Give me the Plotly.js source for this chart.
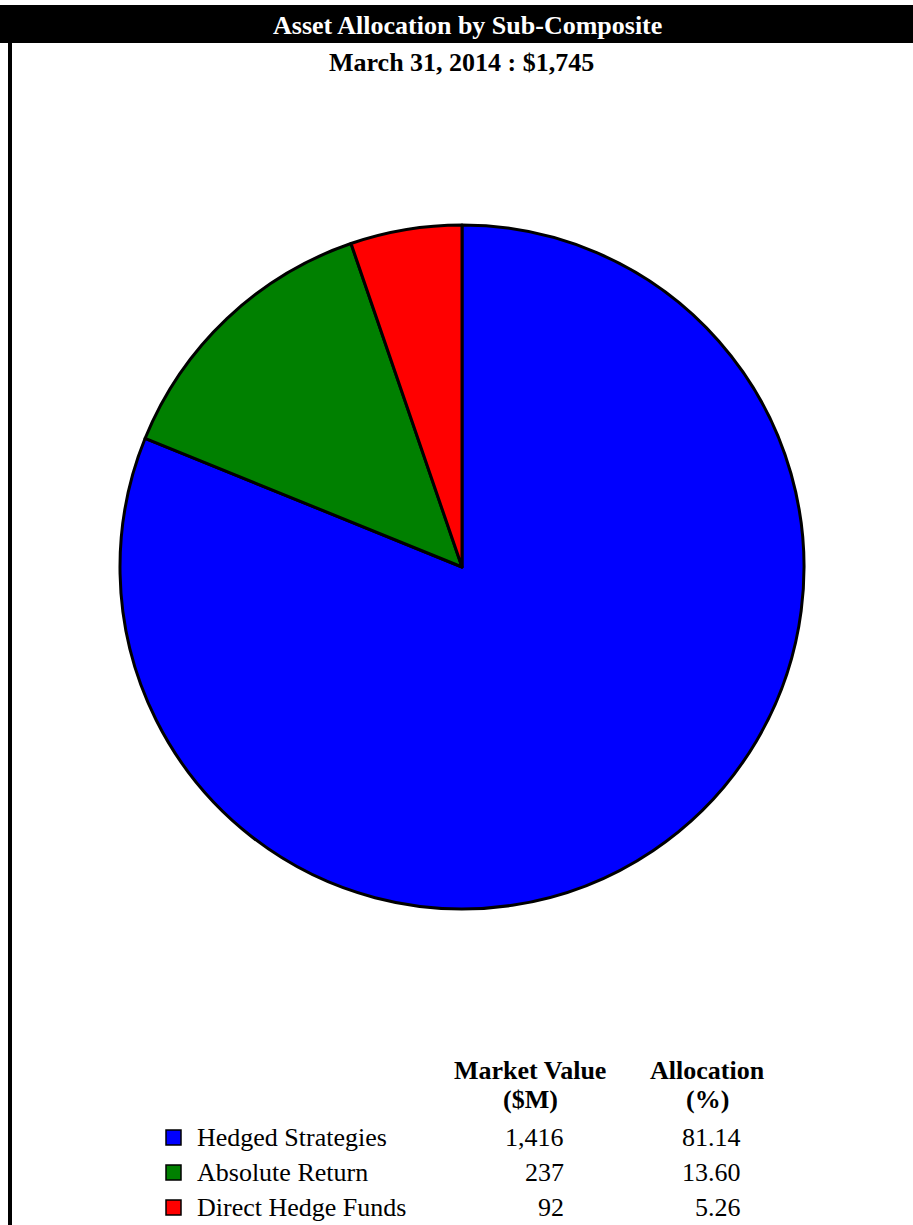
<!DOCTYPE html>
<html>
<head>
<meta charset="utf-8">
<script src="https://cdn.plot.ly/plotly-3.0.1.min.js"></script>
<style>html,body{margin:0;padding:0;background:#fff;}#chart{width:913px;height:1225px;}</style>
</head>
<body>
<div id="chart"></div>
<script>
var categories = ["Hedged Strategies", "Absolute Return", "Direct Hedge Funds"];
var marketValues = ["1,416", "237", "92"];
var allocations = [81.14, 13.60, 5.26];
var colors = ["#0000FF", "#008000", "#FF0000"];
var chartTitle = "Asset Allocation by Sub-Composite";
var subTitle = "March 31, 2014 : $1,745";
var colHeaderLine1 = ["Market Value", "Allocation"];
var colHeaderLine2 = ["($M)", "(%)"];

var W = 913, H = 1225;
function px(x){ return x / W; }
function py(y){ return 1 - y / H; }
var FONT = "Liberation Serif, Times New Roman, serif";
var FS = 26;

var trace = {
  type: "pie",
  values: allocations,
  labels: categories,
  sort: false,
  direction: "clockwise",
  rotation: 0,
  textinfo: "none",
  hoverinfo: "label+percent",
  marker: { colors: colors, line: { color: "#000", width: 3 } },
  domain: { x: [px(120), px(804)], y: [py(909), py(225)] },
  showlegend: false
};

function ann(text, x, y, anchor, color) {
  return { text: text, x: px(x), y: py(y), xref: "paper", yref: "paper", showarrow: false,
    xanchor: anchor, yanchor: "middle", align: anchor, font: { family: FONT, size: FS, color: color || "#000" } };
}

var shapes = [
  { type: "rect", xref: "paper", yref: "paper", x0: 0, x1: 1, y0: py(43), y1: py(5), fillcolor: "#000", line: { width: 0 } },
  { type: "rect", xref: "paper", yref: "paper", x0: px(8), x1: px(12), y0: 0, y1: py(43), fillcolor: "#000", line: { width: 0 } }
];
var annotations = [
  ann("<b>" + chartTitle + "</b>", 467, 25, "center", "#fff"),
  ann("<b>" + subTitle + "</b>", 461, 62, "center"),
  ann("<b>" + colHeaderLine1[0] + "</b>", 530, 1070, "center"),
  ann("<b>" + colHeaderLine2[0] + "</b>", 530, 1099, "center"),
  ann("<b>" + colHeaderLine1[1] + "</b>", 707, 1070, "center"),
  ann("<b>" + colHeaderLine2[1] + "</b>", 707, 1099, "center")
];
var rowY = [1137, 1172, 1207];
for (var i = 0; i < categories.length; i++) {
  shapes.push({ type: "rect", xref: "paper", yref: "paper", x0: px(166), x1: px(181), y0: py(rowY[i] + 8), y1: py(rowY[i] - 7), fillcolor: colors[i], line: { color: "#000", width: 1.5 } });
  annotations.push(ann(categories[i], 195, rowY[i], "left"));
  annotations.push(ann(marketValues[i], 566, rowY[i], "right"));
  annotations.push(ann(allocations[i].toFixed(2), 743, rowY[i], "right"));
}

var layout = {
  width: W, height: H,
  margin: { l: 0, r: 0, t: 0, b: 0, pad: 0 },
  paper_bgcolor: "#fff",
  plot_bgcolor: "#fff",
  shapes: shapes,
  annotations: annotations,
  showlegend: false
};
Plotly.newPlot("chart", [trace], layout, { displayModeBar: false, staticPlot: true });
</script>
</body>
</html>
